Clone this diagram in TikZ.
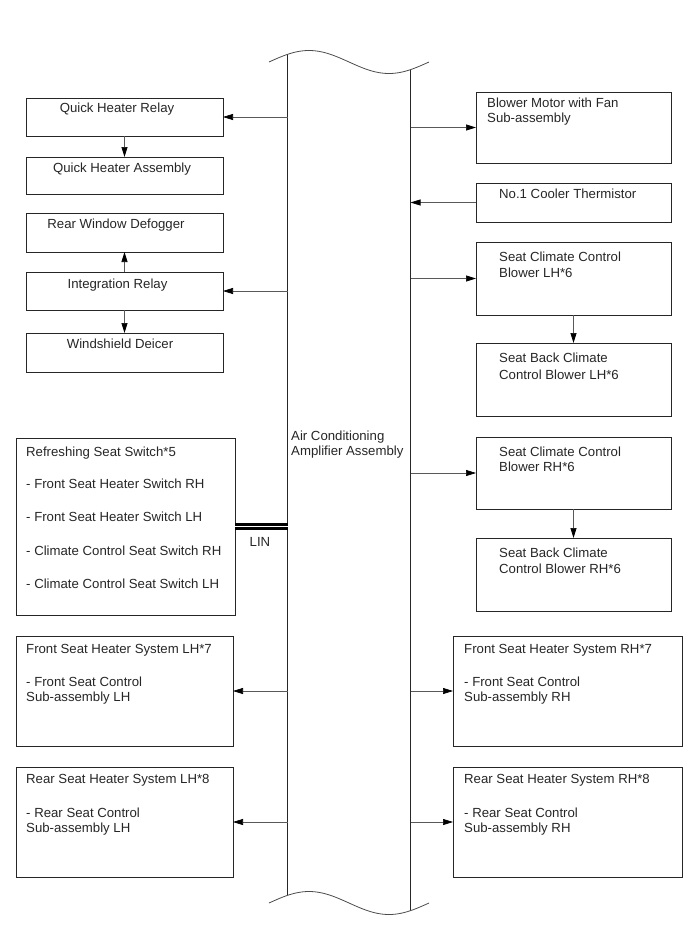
\documentclass[tikz,border=0pt]{standalone}
\usepackage{fontspec}
\setmainfont{Liberation Sans}
\usetikzlibrary{arrows.meta}
\begin{document}
\begin{tikzpicture}[x=1pt,y=-1pt,
  box/.style={draw=black!85, line width=0.9pt, anchor=north west, inner sep=0pt, outer sep=0pt},
  txt/.style={anchor=base west, inner sep=0pt, font=\fontsize{13.2}{16}\selectfont, text=black!85},
  ctxt/.style={txt, anchor=base},
  arr/.style={draw=black!65, line width=0.7pt, -{Triangle[length=10pt,width=6pt,color=black]}},
  col/.style={line width=1pt, draw=black!85},
  wave/.style={line width=0.8pt, draw=black!70}]
\useasboundingbox (0,0) rectangle (689,950);

% main column
\node[inner sep=0pt, outer sep=0pt, minimum width=123pt, minimum height=856pt, anchor=north west] (amp) at (287.5,54) {};
\draw[col] (287.5,54.36) -- (287.5,895.36);
\draw[col] (410.5,69.64) -- (410.5,910.64);
\draw[wave] plot[domain=0:160, samples=80, smooth] ({269+\x}, {62-11.5*sin(2.25*\x)});
\draw[wave] plot[domain=0:160, samples=80, smooth] ({269+\x}, {903-11.5*sin(2.25*\x)});
\node[txt] (ampt1) at (291,440) {Air Conditioning};
\node[txt] (ampt2) at (291,455.5) {Amplifier Assembly};

% left boxes
\node[box, minimum width=197pt, minimum height=38pt] (qhr) at (26,98) {};
\node[box, minimum width=197pt, minimum height=37pt] (qha) at (26,157) {};
\node[box, minimum width=197pt, minimum height=39pt] (rwd) at (26,213) {};
\node[box, minimum width=197pt, minimum height=38pt] (ir) at (26,272) {};
\node[box, minimum width=197pt, minimum height=39pt] (wd) at (26,333) {};
\node[box, minimum width=219pt, minimum height=177pt] (rss) at (16,438) {};
\node[box, minimum width=217pt, minimum height=110pt] (fsl) at (16,636) {};
\node[box, minimum width=217pt, minimum height=110pt] (rsl) at (16,767) {};

% right boxes
\node[box, minimum width=195pt, minimum height=71pt] (bm) at (476,92) {};
\node[box, minimum width=195pt, minimum height=39pt] (thm) at (476,183) {};
\node[box, minimum width=195pt, minimum height=73pt] (scl) at (476,242) {};
\node[box, minimum width=195pt, minimum height=73pt] (sbl) at (476,343) {};
\node[box, minimum width=195pt, minimum height=72pt] (scr) at (476,437) {};
\node[box, minimum width=195pt, minimum height=73pt] (sbr) at (476,538) {};
\node[box, minimum width=229pt, minimum height=110pt] (fsr) at (453,636) {};
\node[box, minimum width=229pt, minimum height=110pt] (rsr) at (453,767) {};

% texts left
\node[ctxt] (tqhr) at (117,112.5) {Quick Heater Relay};
\node[ctxt] (tqha) at (122,172) {Quick Heater Assembly};
\node[ctxt] (trwd) at (116,228) {Rear Window Defogger};
\node[ctxt] (tir) at (117.5,288) {Integration Relay};
\node[ctxt] (twd) at (120,348) {Windshield Deicer};
\node[txt] (trss1) at (26,456) {Refreshing Seat Switch*5};
\node[txt] (trss2) at (26,488.5) {- Front Seat Heater Switch RH};
\node[txt] (trss3) at (26,521.5) {- Front Seat Heater Switch LH};
\node[txt] (trss4) at (26,555) {- Climate Control Seat Switch RH};
\node[txt] (trss5) at (26,588) {- Climate Control Seat Switch LH};
\node[txt] (tfsl1) at (26,653) {Front Seat Heater System LH*7};
\node[txt] (tfsl2) at (26,686) {- Front Seat Control};
\node[txt] (tfsl3) at (26,701) {Sub-assembly LH};
\node[txt] (trsl1) at (26,783) {Rear Seat Heater System LH*8};
\node[txt] (trsl2) at (26,817) {- Rear Seat Control};
\node[txt] (trsl3) at (26,832) {Sub-assembly LH};

% texts right
\node[txt] (tbm1) at (487,107.5) {Blower Motor with Fan};
\node[txt] (tbm2) at (487,122.5) {Sub-assembly};
\node[txt] (tthm) at (499,198.5) {No.1 Cooler Thermistor};
\node[txt] (tscl1) at (499,261) {Seat Climate Control};
\node[txt] (tscl2) at (499,277.5) {Blower LH*6};
\node[txt] (tsbl1) at (499,362.5) {Seat Back Climate};
\node[txt] (tsbl2) at (499,379) {Control Blower LH*6};
\node[txt] (tscr1) at (499,456) {Seat Climate Control};
\node[txt] (tscr2) at (499,471.5) {Blower RH*6};
\node[txt] (tsbr1) at (499,557) {Seat Back Climate};
\node[txt] (tsbr2) at (499,573) {Control Blower RH*6};
\node[txt] (tfsr1) at (464,653) {Front Seat Heater System RH*7};
\node[txt] (tfsr2) at (464,686) {- Front Seat Control};
\node[txt] (tfsr3) at (464,701) {Sub-assembly RH};
\node[txt] (trsr1) at (464,783) {Rear Seat Heater System RH*8};
\node[txt] (trsr2) at (464,817) {- Rear Seat Control};
\node[txt] (trsr3) at (464,832) {Sub-assembly RH};

% connectors
\draw[arr] (amp.west |- qhr.east) -- (qhr.east);
\draw[arr] (amp.west |- ir.east) -- (ir.east);
\draw[arr] (amp.east |- bm.west) -- (bm.west);
\draw[arr] (thm.west) -- (amp.east |- thm.west);
\draw[arr] (amp.east |- scl.west) -- (scl.west);
\draw[arr] (amp.east |- scr.west) -- (scr.west);
\draw[arr] (amp.west |- fsl.east) -- (fsl.east);
\draw[arr] (amp.west |- rsl.east) -- (rsl.east);
\draw[arr] (amp.east |- fsr.west) -- (fsr.west);
\draw[arr] (amp.east |- rsr.west) -- (rsr.west);
\draw[arr] (qhr.south) -- (qha.north);
\draw[arr] (ir.north) -- (rwd.south);
\draw[arr] (ir.south) -- (wd.north);
\draw[arr] (scl.south) -- (sbl.north);
\draw[arr] (scr.south) -- (sbr.north);

% LIN bus
\draw[draw=black, line width=3.2pt, double=white, double distance=1.2pt] (rss.east) -- (amp.west |- rss.east);
\node[ctxt] (tlin) at (260,546) {LIN};
\end{tikzpicture}
\end{document}
